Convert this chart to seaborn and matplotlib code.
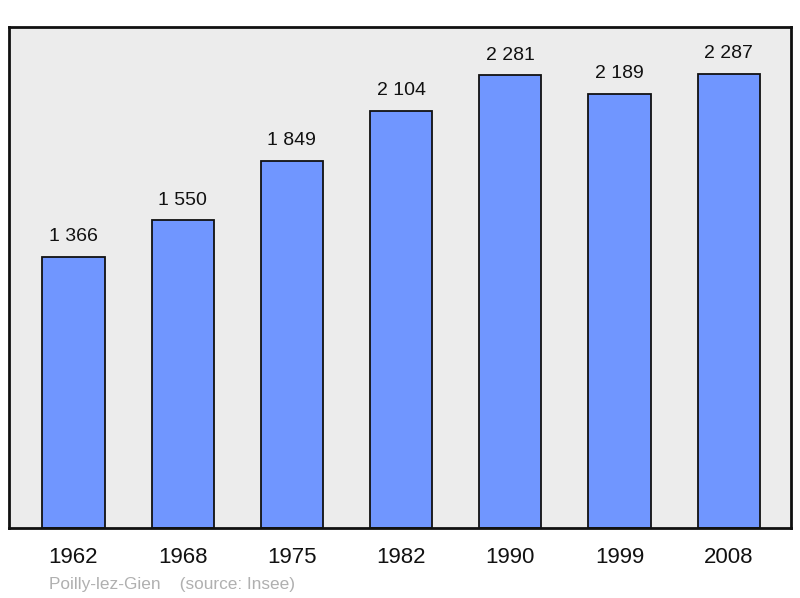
import pandas as pd
import matplotlib.pyplot as plt
import seaborn as sns

# Population data (Insee)
years = ['1962', '1968', '1975', '1982', '1990', '1999', '2008']
population = [1366, 1550, 1849, 2104, 2281, 2189, 2287]
value_labels = ['1 366', '1 550', '1 849', '2 104', '2 281', '2 189', '2 287']

df = pd.DataFrame({'year': years, 'population': population})

sns.set_style('white')
plt.rcParams['font.family'] = ['Liberation Sans', 'DejaVu Sans']

fig = plt.figure(figsize=(8, 5.98), dpi=100)
ax = fig.add_axes([9 / 800, 70 / 598, 782 / 800, 501 / 598])
ax.set_facecolor('#ececec')

sns.barplot(data=df, x='year', y='population', color='#7096ff', saturation=1,
            edgecolor='#111111', linewidth=1.3, width=0.57, ax=ax)

# value labels above bars
for i, (v, lab) in enumerate(zip(population, value_labels)):
    ax.annotate(lab, (i, v), xytext=(0, 8.5), textcoords='offset points',
                ha='center', va='bottom', fontsize=14, color='#111111')

ax.set_xlim(-0.59, 6.57)
ax.set_ylim(0, 2525)
ax.set_yticks([])
ax.set_xlabel('')
ax.set_ylabel('')
ax.tick_params(axis='x', length=0, labelsize=16, pad=14, colors='#111111')
for s in ax.spines.values():
    s.set_visible(True)
    s.set_color('#111111')
    s.set_linewidth(2)

fig.text(49 / 800, 1 - 584 / 598, 'Poilly-lez-Gien    (source: Insee)',
         fontsize=12.4, color='#b0b0b0', va='center', ha='left')

fig.savefig('out.png', dpi=100)
